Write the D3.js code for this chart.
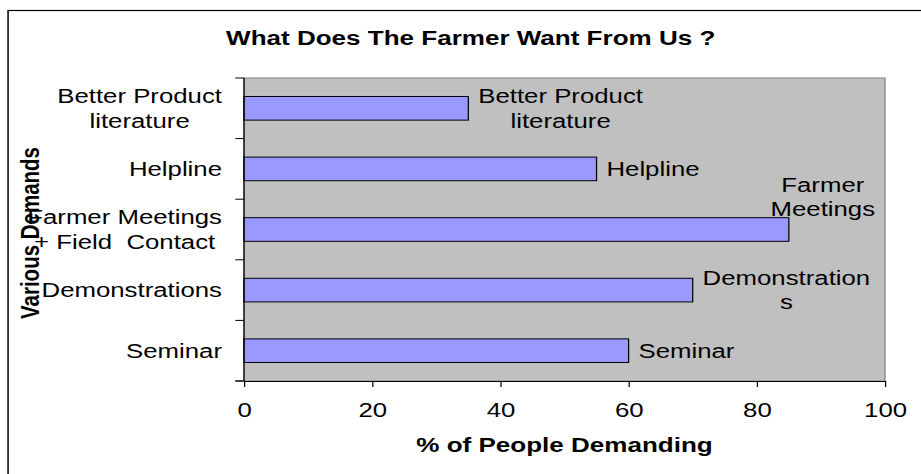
<!DOCTYPE html>
<html>
<head>
<meta charset="utf-8">
<script src="https://cdn.jsdelivr.net/npm/d3@7"></script>
<style>
  html, body { margin: 0; padding: 0; background: #fff; }
  svg { display: block; }
  text { font-family: "Liberation Sans", Arial, sans-serif; fill: #000; white-space: pre; }
</style>
</head>
<body>
<div id="chart"></div>
<script>
// ---- data ----
const categories = ["Better Product literature", "Helpline", "Farmer Meetings + Field Contact", "Demonstrations", "Seminar"];
const categoryLines = [["Better Product", "literature"], ["Helpline"], ["Farmer Meetings", "+ Field  Contact"], ["Demonstrations"], ["Seminar"]];
const barLabelLines = [["Better Product", "literature"], ["Helpline"], ["Farmer", "Meetings"], ["Demonstration", "s"], ["Seminar"]];
const values = [35, 55, 85, 70, 60];
const xTicks = [0, 20, 40, 60, 80, 100];
const chartTitle = "What Does The Farmer Want From Us ?";
const xTitle = "% of People Demanding";
const yTitle = "Various Demands";

// ---- layout (source drawn narrower, then stretched horizontally) ----
const W = 921, H = 474, SX = 1.24;
const VW = W / SX;
const plot = { left: 244 / SX, right: 885 / SX, top: 78, bottom: 381 };
const fontSize = 20.8, lineH = 24.5;

const svg = d3.select("#chart").append("svg")
  .attr("width", W).attr("height", H)
  .attr("viewBox", `0 0 ${VW} ${H}`)
  .attr("preserveAspectRatio", "none");

// chart area border
svg.append("rect")
  .attr("x", 6.5).attr("y", 10.5)
  .attr("width", VW + 20).attr("height", H + 20)
  .attr("fill", "#fff").attr("stroke", "#000").attr("stroke-width", 1.2);

const x = d3.scaleLinear().domain([0, 100]).range([plot.left, plot.right]);
const y = d3.scaleBand().domain(categories).range([plot.top, plot.bottom]).paddingInner(0).paddingOuter(0);
const bw = y.bandwidth();
const barFrac = 0.39;

// plot area
svg.append("rect")
  .attr("x", plot.left).attr("y", plot.top)
  .attr("width", plot.right - plot.left).attr("height", plot.bottom - plot.top)
  .attr("fill", "#C0C0C0").attr("stroke", "#808080").attr("stroke-width", 1);

// bars
svg.selectAll("rect.bar").data(categories).join("rect")
  .attr("class", "bar")
  .attr("x", x(0))
  .attr("y", d => y(d) + bw * (1 - barFrac) / 2)
  .attr("width", (d, i) => x(values[i]) - x(0))
  .attr("height", bw * barFrac)
  .attr("fill", "#9999FF").attr("stroke", "#000").attr("stroke-width", 1);

// x axis
const xAxis = svg.append("g")
  .attr("transform", `translate(0,${plot.bottom})`)
  .call(d3.axisBottom(x).tickValues(xTicks).tickSize(6).tickSizeOuter(0).tickFormat(d3.format("d")));
xAxis.select(".domain").attr("stroke", "#000");
xAxis.selectAll(".tick line").attr("stroke", "#000");
xAxis.selectAll(".tick text")
  .attr("y", 0).attr("dy", null)
  .attr("transform", "translate(0,36)")
  .style("font-size", fontSize + "px").style("font-family", '"Liberation Sans", Arial, sans-serif')
  .attr("fill", "#000");
// extend x axis line left by the y tick length
svg.append("line")
  .attr("x1", plot.left - 7).attr("x2", plot.left)
  .attr("y1", plot.bottom).attr("y2", plot.bottom)
  .attr("stroke", "#000");

// y axis: line + ticks at band boundaries
const yBounds = categories.map(d => y(d)).concat([plot.bottom]);
svg.append("line")
  .attr("x1", plot.left).attr("x2", plot.left)
  .attr("y1", plot.top).attr("y2", plot.bottom)
  .attr("stroke", "#000");
svg.selectAll("line.ytick").data(yBounds).join("line")
  .attr("class", "ytick")
  .attr("x1", plot.left - 7).attr("x2", plot.left)
  .attr("y1", d => d).attr("y2", d => d)
  .attr("stroke", "#000");

// y category labels (multi-line blocks centered, right-aligned as block)
const labRight = 222 / SX;
categories.forEach((c, i) => {
  const lines = categoryLines[i];
  const g = svg.append("g");
  const cy = y(c) + bw / 2;
  const firstBase = cy + 7 - (lines.length - 1) * lineH / 2;
  const ts = lines.map((t, k) => g.append("text")
    .attr("y", firstBase + k * lineH)
    .attr("text-anchor", "middle")
    .style("font-size", fontSize + "px")
    .text(t));
  const maxW = d3.max(ts, t => t.node().getComputedTextLength());
  ts.forEach(t => t.attr("x", labRight - maxW / 2));
});

// bar value labels (category names next to bars)
categories.forEach((c, i) => {
  const lines = barLabelLines[i];
  const g = svg.append("g");
  const barEnd = x(values[i]);
  const barTop = y(c) + bw * (1 - barFrac) / 2;
  const cy = y(c) + bw / 2;
  const ts = lines.map(t => g.append("text")
    .attr("text-anchor", "middle")
    .style("font-size", fontSize + "px")
    .text(t));
  const maxW = d3.max(ts, t => t.node().getComputedTextLength());
  let left = barEnd + 8;
  let clamped = false;
  if (left + maxW > plot.right - 8) { left = plot.right - 8 - maxW; clamped = true; }
  let firstBase;
  if (clamped && left < barEnd) {
    firstBase = barTop - 1.5 - (lines.length - 1) * lineH;
  } else {
    firstBase = cy + 7 - (lines.length - 1) * lineH / 2;
  }
  ts.forEach((t, k) => t.attr("x", left + maxW / 2).attr("y", firstBase + k * lineH));
});

// titles
svg.append("text")
  .attr("x", 379.6).attr("y", 45)
  .attr("text-anchor", "middle")
  .style("font-size", "21px").style("font-weight", "bold")
  .text(chartTitle);

svg.append("text")
  .attr("x", (plot.left + plot.right) / 2).attr("y", 452)
  .attr("text-anchor", "middle")
  .style("font-size", "21px").style("font-weight", "bold")
  .text(xTitle);

svg.append("text")
  .attr("transform", `translate(${39 / SX},233) rotate(-90)`)
  .attr("text-anchor", "middle")
  .style("font-size", "20.5px").style("font-weight", "bold")
  .text(yTitle);
</script>
</body>
</html>
